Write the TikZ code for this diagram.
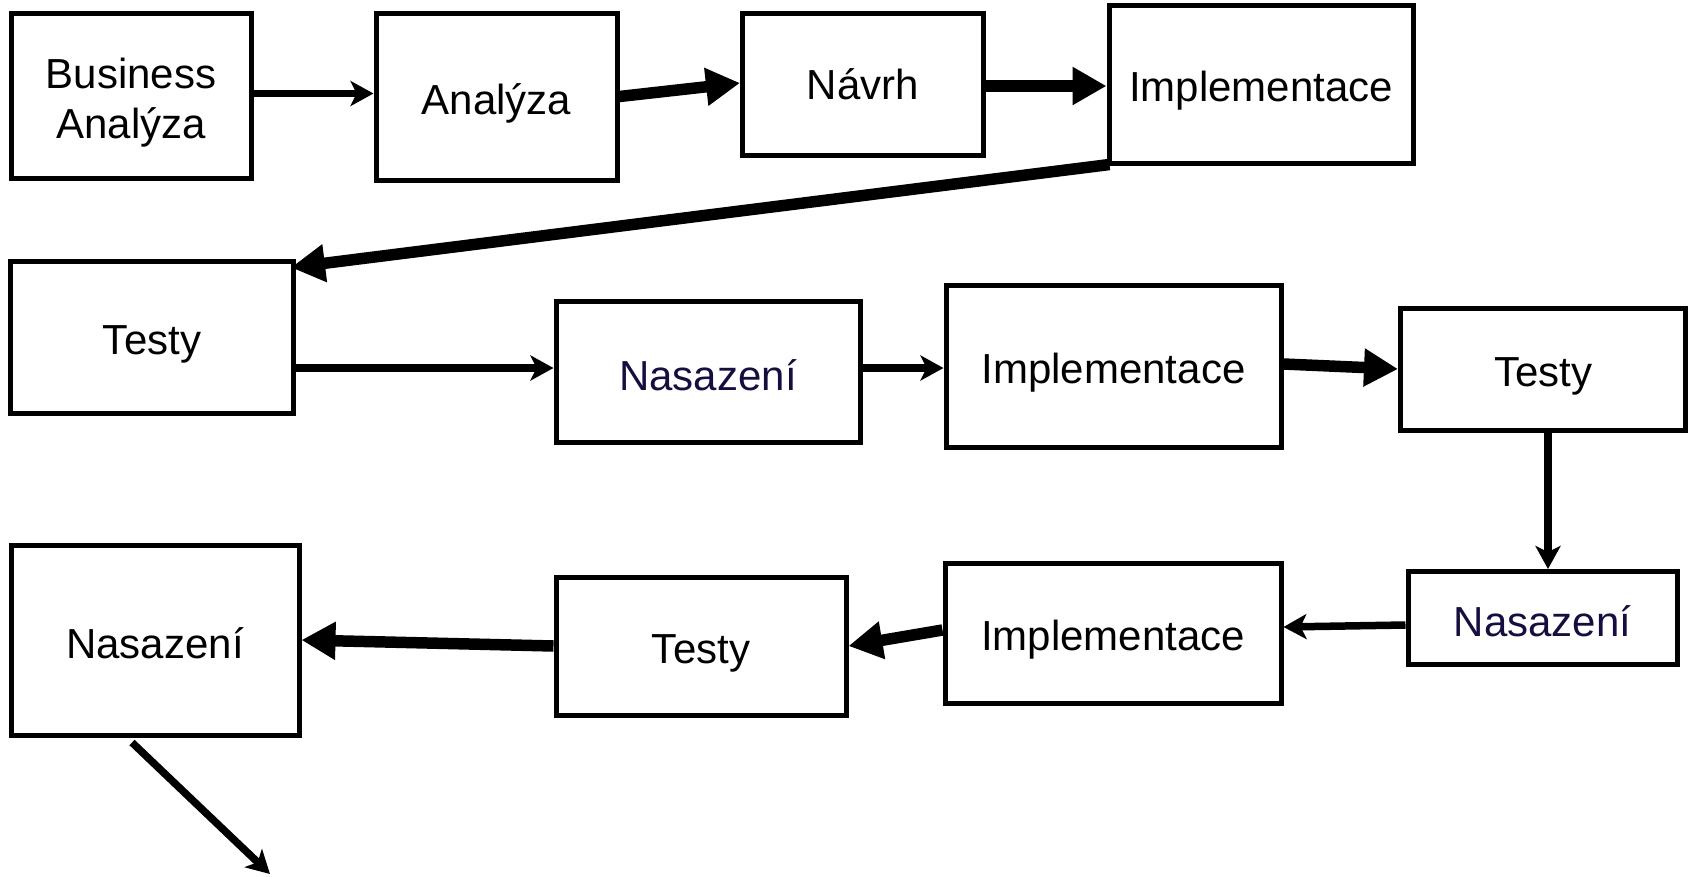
\documentclass[tikz,border=0pt]{standalone}
\usepackage{fontspec}
\setmainfont{Liberation Sans}
\usetikzlibrary{arrows.meta,calc}
\definecolor{navytext}{RGB}{22,14,62}
\tikzset{
  box/.style={draw=black, line width=5pt, inner sep=0pt, align=center,
    font=\fontsize{42}{50}\selectfont},
  low/.style={text height=44pt, text depth=9pt},
  lowish/.style={text height=38pt, text depth=2pt},
  thin/.style={line width=7.5pt, -{Stealth[length=23pt,width=25pt,inset=6pt]}},
  thick/.style={line width=11.5pt, -{Triangle[length=34pt,width=36pt]}},
}
\begin{document}
\begin{tikzpicture}[x=1pt,y=-1pt]
\useasboundingbox (0,0) rectangle (1690,876);
% row 1
\node[box, minimum width=240pt, minimum height=165pt, text height=95pt, text depth=10pt] (ba) at (131,95.5) {Business\\Analýza};
\node[box, low, minimum width=241pt, minimum height=167pt] (an) at (496.5,96.5) {Analýza};
\node[box, minimum width=241pt, minimum height=142pt] (nv) at (863,84) {Návrh};
\node[box, low, minimum width=304pt, minimum height=158pt] (im1) at (1261,84) {Implementace};
% row 2
\node[box, low, minimum width=283pt, minimum height=152pt] (te1) at (152,337) {Testy};
\node[box, lowish, minimum width=304pt, minimum height=141pt, text=navytext] (na1) at (708,372) {Nasazení};
\node[box, low, minimum width=335pt, minimum height=162pt] (im2) at (1113.5,366) {Implementace};
\node[box, low, minimum width=285pt, minimum height=122pt] (te2) at (1543,369) {Testy};
% row 3
\node[box, lowish, minimum width=288pt, minimum height=190pt] (na3) at (155,640) {Nasazení};
\node[box, low, minimum width=290pt, minimum height=138pt] (te3) at (701,646) {Testy};
\node[box, low, minimum width=336pt, minimum height=140pt] (im3) at (1113,633) {Implementace};
\node[box, lowish, minimum width=269pt, minimum height=93pt, text=navytext] (na2) at (1542.5,618) {Nasazení};
\coordinate (out) at (270,874);
% connectors
\draw[thin] ($(ba.east)+(0,-2)$) -- ($(an.west)+(0,-3)$);
\draw[thick] (an.east) -- ($(nv.west)+(0,-1)$);
\draw[thick] ($(nv.east)+(0,2)$) -- ($(im1.west)+(0,2)$);
\draw[thick] ($(im1.south west)+(3,-1)$) -- ($(te1.north east)+(-5,9)$);
\draw[thin] ($(te1.east)+(0,31)$) -- ($(na1.west)+(0,-4)$);
\draw[thin] ($(na1.east)+(0,-4)$) -- ($(im2.west)+(0,2)$);
\draw[thick] ($(im2.east)+(0,-2)$) -- (te2.west);
\draw[thin] ($(te2.south)+(5,0)$) -- ($(na2.north)+(5.5,0)$);
\draw[thin] ($(na2.west)+(0,7)$) -- ($(im3.east)+(0,-6)$);
\draw[thick] ($(im3.west)+(0,-3)$) -- (te3.east);
\draw[thick] (te3.west) -- (na3.east);
\draw[thin] ($(na3.south)+(-23,5)$) -- (out);
\end{tikzpicture}
\end{document}
